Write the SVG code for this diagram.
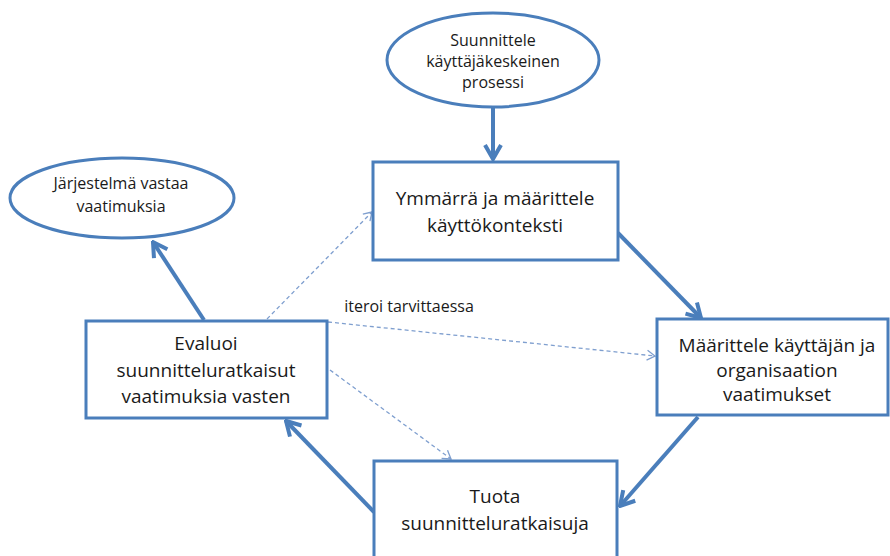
<svg xmlns="http://www.w3.org/2000/svg" width="890" height="556" viewBox="0 0 890 556">
<defs>
<style>
.node{fill:#fff;stroke:#4a7ebb;stroke-width:3}
.t{font-family:"Open Sans","Liberation Sans",sans-serif;fill:#1a1a1a;text-anchor:middle}
.big{font-size:19px}
.sm{font-size:16px}
.lbl{font-size:16px}
.thick{stroke:#4a7ebb;stroke-width:4;fill:none}
.dash{stroke:#7f9fcf;stroke-width:1.3;fill:none;stroke-dasharray:4 3}
</style>
<marker id="ah" viewBox="0 0 20 20" refX="18" refY="10" markerWidth="20" markerHeight="20" markerUnits="userSpaceOnUse" orient="auto">
<path d="M4,2 L18,10 L4,18" fill="none" stroke="#4a7ebb" stroke-width="4" stroke-linejoin="miter"/>
</marker>
<marker id="ad" viewBox="0 0 12 12" refX="11" refY="6" markerWidth="12" markerHeight="12" markerUnits="userSpaceOnUse" orient="auto">
<path d="M3,1 L11,6 L3,11" fill="none" stroke="#7f9fcf" stroke-width="1.3"/>
</marker>
</defs>
<rect width="890" height="556" fill="#fff"/>
<g id="connectors">
<line class="thick" x1="493" y1="107" x2="493" y2="159" marker-end="url(#ah)"/>
<line class="thick" x1="618" y1="233" x2="701" y2="318" marker-end="url(#ah)"/>
<line class="thick" x1="698" y1="417" x2="620" y2="506" marker-end="url(#ah)"/>
<line class="thick" x1="374" y1="512" x2="286" y2="421" marker-end="url(#ah)"/>
<line class="thick" x1="204" y1="320" x2="153" y2="242" marker-end="url(#ah)"/>
<line class="dash" x1="267" y1="319" x2="372" y2="212" marker-end="url(#ad)"/>
<line class="dash" x1="328" y1="322" x2="655" y2="356" marker-end="url(#ad)"/>
<line class="dash" x1="330" y1="370" x2="451" y2="459" marker-end="url(#ad)"/>
<text class="t lbl" x="409" y="312">iteroi tarvittaessa</text>
</g>
<g id="start">
<ellipse class="node" cx="493" cy="60" rx="106" ry="47"/>
<text class="t sm" x="493" y="46">Suunnittele</text>
<text class="t sm" x="493" y="67">käyttäjäkeskeinen</text>
<text class="t sm" x="493" y="88">prosessi</text>
</g>
<g id="ymmarra">
<rect class="node" x="373" y="162" width="245" height="98"/>
<text class="t big" x="495" y="205">Ymmärrä ja määrittele</text>
<text class="t big" x="495" y="232">käyttökonteksti</text>
</g>
<g id="maarittele">
<rect class="node" x="657" y="319" width="231" height="96"/>
<text class="t big" x="777" y="352">Määrittele käyttäjän ja</text>
<text class="t big" x="777" y="377">organisaation</text>
<text class="t big" x="777" y="401">vaatimukset</text>
</g>
<g id="tuota">
<rect class="node" x="374" y="461" width="243" height="100"/>
<text class="t big" x="495" y="503">Tuota</text>
<text class="t big" x="495" y="530">suunnitteluratkaisuja</text>
</g>
<g id="evaluoi">
<rect class="node" x="86" y="321" width="241" height="97"/>
<text class="t big" x="206" y="350">Evaluoi</text>
<text class="t big" x="206" y="377">suunnitteluratkaisut</text>
<text class="t big" x="206" y="403">vaatimuksia vasten</text>
</g>
<g id="end">
<ellipse class="node" cx="122" cy="198" rx="112" ry="40"/>
<text class="t sm" x="121" y="189">Järjestelmä vastaa</text>
<text class="t sm" x="121" y="212">vaatimuksia</text>
</g>
</svg>
